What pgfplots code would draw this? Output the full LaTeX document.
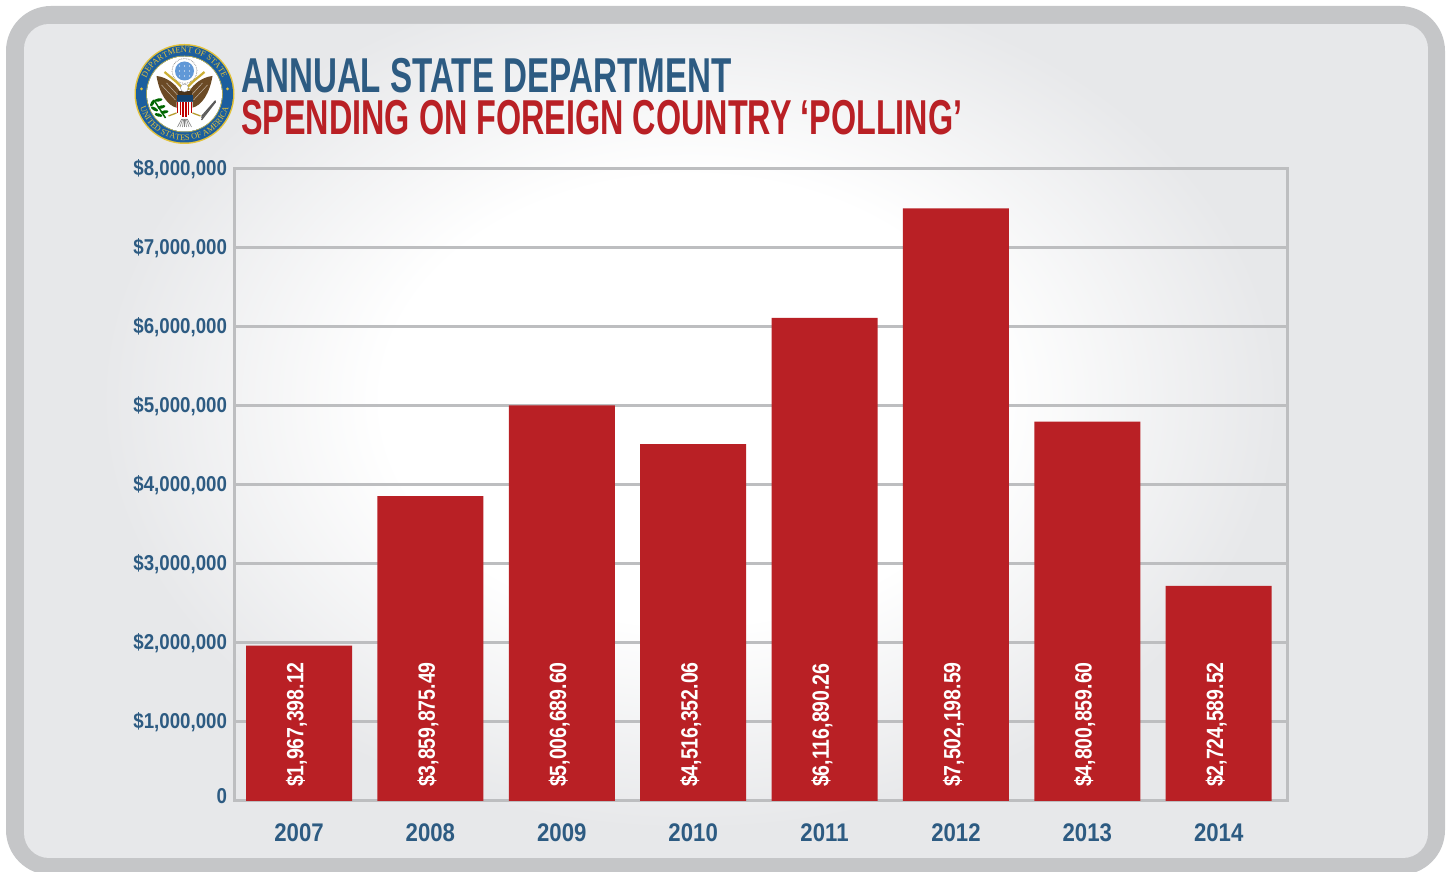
\documentclass[border=0pt]{standalone}
\usepackage{pgfplots}
\pgfplotsset{compat=1.18}
\usepackage{fontspec}
\setmainfont{Liberation Sans}
\newfontfamily\titlefonta[FakeStretch=0.677]{Liberation Sans}
\newfontfamily\titlefontb[FakeStretch=0.66]{Liberation Sans}
\newfontfamily\tickfont[FakeStretch=0.87]{Liberation Sans}
\newfontfamily\valuefont[FakeStretch=0.83]{Liberation Sans}
\newfontfamily\sealfont{Liberation Serif}
\usetikzlibrary{decorations.text}
\definecolor{frame}{HTML}{C5C6C8}
\definecolor{panel}{HTML}{E7E8EA}
\definecolor{gridgray}{HTML}{BDBEC0}
\definecolor{navy}{HTML}{2D5B82}
\definecolor{barred}{HTML}{B92025}
\definecolor{sealblue}{HTML}{1B5E9E}
\definecolor{sealgold}{HTML}{E3C23A}
\definecolor{wing}{HTML}{6B4A25}
\pgfdeclareradialshading{panelglow}{\pgfpointorigin}{color(0bp)=(white); color(13bp)=(white); color(25bp)=(panel); color(50bp)=(panel)}
\begin{document}
\begin{tikzpicture}[x=1pt,y=1pt]
\path[use as bounding box] (0,0) rectangle (1448,872);
\clip (0,0) rectangle (1448,872);
% frame and panel
\fill[frame,rounded corners=45pt] (6,-3) rectangle (1445,866);
\begin{scope}
  \clip[rounded corners=25pt] (24,14) rectangle (1428,848);
  \fill[panel] (24,14) rectangle (1428,848);
  \shade[shading=panelglow] (100,42) rectangle (1280,902);
\end{scope}
% department seal
\begin{scope}[shift={(184.5,778)}]
  \fill[sealgold] (0,0) circle (50);
  \fill[sealblue] (0,0) circle (48.5);
  \fill[white] (0,0) circle (37.5);
  \draw[sealgold,line width=.5pt] (0,0) circle (38);
  \path[postaction={decorate,decoration={text along path,text align=center,
    text={|\sealfont\fontsize{8.4}{9}\selectfont\color{sealgold}|DEPARTMENT OF STATE}}}]
    (-40,10) arc[start angle=166,end angle=14,radius=41.2];
  \path[postaction={decorate,decoration={text along path,text align=center,
    text={|\sealfont\fontsize{8.4}{9}\selectfont\color{sealgold}|UNITED STATES OF AMERICA}}}]
    (-46,-5) arc[start angle=186,end angle=354,radius=46.3];
  \fill[sealgold] (-43,5) circle (1.5) (43,5) circle (1.5);
  % glory
  \draw[gray,densely dotted,line width=.7pt] (0,23) circle (12.5);
  \fill[cyan!55!blue!65] (0,23) circle (9.5);
  \foreach \dx in {-5,0,5} \foreach \dy in {-5,0,5} \fill[white] (\dx,23+\dy) circle (.6);
  % wings
  \fill[wing] (-28,18) .. controls (-18,17) and (-9,10) .. (-5,3) -- (-7,-14) .. controls (-17,-12) and (-25,0) .. cycle;
  \fill[wing] (28,18) .. controls (18,17) and (9,10) .. (5,3) -- (7,-14) .. controls (17,-12) and (25,0) .. cycle;
  \draw[wing!40!white,line width=.5pt] (-23,9)--(-9,-6) (-18,11)--(-7,-1) (23,9)--(9,-6) (18,11)--(7,-1);
  % scrolls held in the beak
  \draw[sealgold!90!black,line width=2.2pt] (-20,22)--(-8,12)--(-3,7) (20,22)--(8,12)--(3,7);
  % head and body
  \fill[wing!70!black] (-7,-3) rectangle (7,3);
  \fill[white,draw=gray,line width=.3pt] (0,6) circle (4);
  \fill[sealgold!80!black] (3,6) -- (7,5) -- (3,4) -- cycle;
  % shield
  \fill[sealblue!70!black] (-8,-1) rectangle (8,-8);
  \fill[white] (-8,-8) -- (8,-8) -- (8,-18) .. controls (7,-22) and (2,-23) .. (0,-25) .. controls (-2,-23) and (-7,-22) .. (-8,-18) -- cycle;
  \foreach \sx in {-6.8,-4.1,-1.35,1.35,4.1,6.8}
    \fill[red!75!black] (\sx-.7,-8) rectangle (\sx+.7,{-19-(6.8-abs(\sx))*.65});
  % tail and talons
  \foreach \tx in {-7,-4.5,-2,0,2,4.5,7} \draw[gray,line width=.6pt] (\tx*.4,-25)--(\tx,-33);
  \draw[sealgold!80!black,line width=1.3pt] (-16,-22)--(-8,-19) (16,-22)--(8,-19);
  % olive branch and arrows
  \draw[green!40!black,line width=1.5pt] (-30,-7)--(-19,-24);
  \foreach \ox/\oy/\oa in {-32/-9/60,-26/-6/10,-30/-15/150,-23/-13/15,-26/-21/165,-20/-18/10}
    \fill[green!40!black,rotate around={\oa:(\ox,\oy)}] (\ox,\oy) ellipse (4 and 1.6);
  \foreach \ay in {0,1.8,3.6} \draw[gray!70!black,line width=1.1pt] (17,-26+\ay)--(31,{-8+\ay*.4});
\end{scope}
% heading
\node[anchor=base west,inner sep=0pt,text=navy,font=\titlefonta\bfseries\fontsize{49}{49}\selectfont] at (241,779) {ANNUAL STATE DEPARTMENT};
\node[anchor=base west,inner sep=0pt,text=barred,font=\titlefontb\bfseries\fontsize{49}{49}\selectfont] at (241,737) {SPENDING ON FOREIGN COUNTRY ‘POLLING’};
% chart
\begin{axis}[
  at={(234pt,71pt)},anchor=south west,
  scale only axis,width=1053pt,height=632pt,
  xmin=-0.495,xmax=7.52,ymin=0,ymax=8000000,
  xtick={0,1,2,3,4,5,6,7},
  xticklabels={2007,2008,2009,2010,2011,2012,2013,2014},
  ytick={0,1000000,2000000,3000000,4000000,5000000,6000000,7000000,8000000},
  yticklabels={{\raisebox{12pt}{0}},{\$1,000,000},{\$2,000,000},{\$3,000,000},{\$4,000,000},{\$5,000,000},{\$6,000,000},{\$7,000,000},{\$8,000,000}},
  scaled y ticks=false,
  major tick length=0pt,
  ymajorgrids,
  grid style={gridgray,line width=3pt},
  axis line style={gridgray,line width=3pt},
  tick label style={text=navy},
  yticklabel style={font=\tickfont\bfseries\fontsize{21.5}{21.5}\selectfont,anchor=east,xshift=-3.5pt,yshift=-.5pt},
  xticklabel style={font=\tickfont\bfseries\fontsize{25.5}{25.5}\selectfont,anchor=base,yshift=-41pt},
  clip=false,
]
\addplot[ybar,bar width=106pt,fill=barred,draw=none] coordinates {
  (0,1967398.12) (1,3859875.49) (2,5006689.60) (3,4516352.06)
  (4,6116890.26) (5,7502198.59) (6,4800859.60) (7,2724589.52)};
\addplot[only marks,mark=none,point meta=explicit symbolic,
  nodes near coords,
  every node near coord/.append style={rotate=90,anchor=west,inner sep=0pt,text=white,yshift=2.5pt,
    font=\valuefont\bfseries\fontsize{23.5}{23.5}\selectfont}]
  coordinates {
  (0,175000) [\$1,967,398.12] (1,175000) [\$3,859,875.49]
  (2,175000) [\$5,006,689.60] (3,175000) [\$4,516,352.06]
  (4,175000) [\$6,116,890.26] (5,175000) [\$7,502,198.59]
  (6,175000) [\$4,800,859.60] (7,175000) [\$2,724,589.52]};
\end{axis}
\end{tikzpicture}
\end{document}
